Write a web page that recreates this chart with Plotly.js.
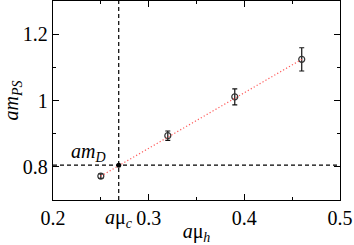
<!DOCTYPE html>
<html>
<head>
<meta charset="utf-8">
<script src="https://cdn.plot.ly/plotly-3.0.1.min.js"></script>
<style>html,body{margin:0;padding:0;background:#fff;}#chart{width:354px;height:245px;}</style>
</head>
<body>
<div id="chart"></div>
<script>
// Data
const muH = [0.25, 0.32, 0.39, 0.46];
const mPS = [0.772, 0.894, 1.011, 1.124];
const mPSerr = [0.007, 0.014, 0.024, 0.035];
const fitX = [0.25, 0.46];
const fitY = [0.772, 1.124];
const muC = [0.2687];
const mD = [0.805];
const xTickVals = [0.2, 0.3, 0.4, 0.5];
const xTickText = ['0.2', '0.3', '0.4', '0.5'];
const yTickVals = [0.8, 1.0, 1.2];
const yTickText = ['0.8', '1', '1.2'];

const serif = 'Times New Roman, Times, serif';

const traces = [
  {
    x: muH, y: mPS, type: 'scatter', mode: 'markers',
    marker: {symbol: 'circle-open', size: 6, color: '#333', line: {width: 1.2, color: '#333'}},
    error_y: {type: 'data', array: mPSerr, visible: true, color: '#111', thickness: 1.2, width: 2.5},
    hoverinfo: 'skip'
  },
  {
    x: fitX, y: fitY, type: 'scatter', mode: 'lines',
    line: {color: 'rgb(255,90,90)', width: 1.2, dash: '1.2px,2.2px'},
    hoverinfo: 'skip'
  },
  {
    x: muC, y: mD, type: 'scatter', mode: 'markers',
    marker: {symbol: 'circle', size: 5, color: '#000'},
    hoverinfo: 'skip'
  }
];

const axisCommon = {
  showgrid: false, zeroline: false, showline: true, linecolor: '#000', linewidth: 1.3,
  ticks: 'inside', ticklen: 6, tickwidth: 1.2, tickcolor: '#000', mirror: 'ticks',
  tickfont: {family: serif, size: 20, color: '#000'},
  minor: {ticks: 'inside', ticklen: 3, tickwidth: 1.2, tickcolor: '#000'}
};

const layout = {
  width: 354, height: 245,
  margin: {l: 53, r: 14, t: 1, b: 45},
  paper_bgcolor: '#fff', plot_bgcolor: '#fff',
  showlegend: false,
  font: {family: serif, color: '#000'},
  xaxis: Object.assign({}, axisCommon, {
    range: [0.2, 0.5], tickmode: 'array', tickvals: xTickVals, ticktext: xTickText,
    minor: Object.assign({}, axisCommon.minor, {dtick: 0.05, tick0: 0.2}),
    title: {text: '<i>a</i>μ<sub><i>h</i></sub>', font: {family: serif, size: 20, color: '#000'}, standoff: 0}
  }),
  yaxis: Object.assign({}, axisCommon, {
    range: [0.7, 1.3], tickmode: 'array', tickvals: yTickVals, ticktext: yTickText,
    minor: Object.assign({}, axisCommon.minor, {dtick: 0.1, tick0: 0.7}),
    title: {text: '<i>am</i><sub><i>PS</i></sub>', font: {family: serif, size: 20, color: '#000'}, standoff: 6}
  }),
  shapes: [
    {type: 'line', xref: 'paper', x0: 0, x1: 1, yref: 'y', y0: mD[0], y1: mD[0],
     line: {color: '#000', width: 1.2, dash: '4px,3px'}, layer: 'below'},
    {type: 'line', yref: 'paper', y0: 0, y1: 1, xref: 'x', x0: muC[0], x1: muC[0],
     line: {color: '#000', width: 1.2, dash: '4px,3px'}, layer: 'below'}
  ],
  annotations: [
    {x: muC[0], xref: 'x', y: 0, yref: 'paper', yshift: -4, text: '<i>a</i>μ<sub><i>c</i></sub>',
     showarrow: false, xanchor: 'center', yanchor: 'top', font: {family: serif, size: 20, color: '#000'}},
    {x: muC[0], xref: 'x', y: mD[0], yref: 'y', xshift: -11, yshift: -2, text: '<i>am</i><sub><i>D</i></sub>',
     showarrow: false, xanchor: 'right', yanchor: 'bottom', font: {family: serif, size: 20, color: '#000'}}
  ]
};

Plotly.newPlot('chart', traces, layout, {staticPlot: true, displayModeBar: false});
</script>
</body>
</html>
